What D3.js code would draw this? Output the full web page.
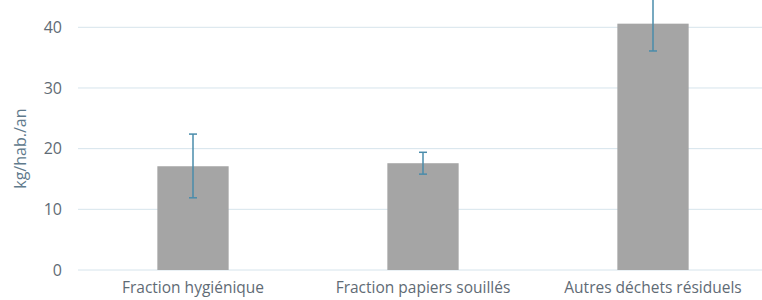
<!DOCTYPE html>
<html>
<head>
<meta charset="utf-8">
<script src="https://cdn.jsdelivr.net/npm/d3@7"></script>
<style>
  body { margin: 0; background: #fff; }
  svg, svg text { font-family: 'Open Sans', 'Noto Sans', sans-serif; }
  svg { display: block; }
</style>
</head>
<body>
<svg width="762" height="300"></svg>
<script>
const categories = ['Fraction hygiénique', 'Fraction papiers souillés', 'Autres déchets résiduels'];
const values = [17.1, 17.6, 40.6];
const errLow = [11.9, 15.8, 36.1];
const errHigh = [22.4, 19.4, 45.1];
const yTicks = [0, 10, 20, 30, 40];

const margin = { top: 0, right: -6, bottom: 30, left: 78 };
const width = 762 - margin.left - margin.right;
const height = 300 - margin.top - margin.bottom;

const svg = d3.select('svg');
const g = svg.append('g').attr('transform', `translate(${margin.left},${margin.top})`);

const x = d3.scaleBand().domain(categories).range([0, width]).paddingInner(0.69).paddingOuter(0.345);
const y = d3.scaleLinear().domain([0, 44.5]).range([height, 0]);

// gridlines
g.selectAll('.grid')
  .data(yTicks)
  .enter()
  .append('line')
  .attr('x1', 0)
  .attr('x2', width)
  .attr('y1', d => y(d))
  .attr('y2', d => y(d))
  .attr('stroke', '#d6e4ec')
  .attr('stroke-width', 1);

const yAxis = g.append('g')
  .call(d3.axisLeft(y).tickValues(yTicks).tickSize(0).tickPadding(16));
yAxis.select('.domain').remove();
yAxis.selectAll('text')
  .attr('fill', '#5f6b75')
  .style('font-size', '16px');

const xAxis = g.append('g')
  .attr('transform', `translate(0,${height})`)
  .call(d3.axisBottom(x).tickSize(0).tickPadding(12));
xAxis.select('.domain').remove();
xAxis.selectAll('text')
  .attr('fill', '#5f6b75')
  .style('font-size', '15.5px');

// bars
g.selectAll('.bar')
  .data(values)
  .enter()
  .append('rect')
  .attr('x', (d, i) => x(categories[i]))
  .attr('width', x.bandwidth())
  .attr('y', d => y(d))
  .attr('height', d => y(0) - y(d))
  .attr('fill', '#a5a5a5');

// error bars
const err = g.selectAll('.err')
  .data(categories)
  .enter()
  .append('g')
  .attr('stroke', '#4a8cab')
  .attr('stroke-width', 1.5);
err.append('line')
  .attr('x1', d => x(d) + x.bandwidth() / 2)
  .attr('x2', d => x(d) + x.bandwidth() / 2)
  .attr('y1', (d, i) => y(errLow[i]))
  .attr('y2', (d, i) => y(errHigh[i]));
err.append('line')
  .attr('x1', d => x(d) + x.bandwidth() / 2 - 4)
  .attr('x2', d => x(d) + x.bandwidth() / 2 + 4)
  .attr('y1', (d, i) => y(errLow[i]))
  .attr('y2', (d, i) => y(errLow[i]));
err.append('line')
  .attr('x1', d => x(d) + x.bandwidth() / 2 - 4)
  .attr('x2', d => x(d) + x.bandwidth() / 2 + 4)
  .attr('y1', (d, i) => y(errHigh[i]))
  .attr('y2', (d, i) => y(errHigh[i]));

// axis title
svg.append('text')
  .attr('transform', `translate(26,${margin.top + y(20)}) rotate(-90)`)
  .attr('text-anchor', 'middle')
  .attr('fill', '#5f7a8c')
  .style('font-size', '16px')
  .text('kg/hab./an');
</script>
</body>
</html>
